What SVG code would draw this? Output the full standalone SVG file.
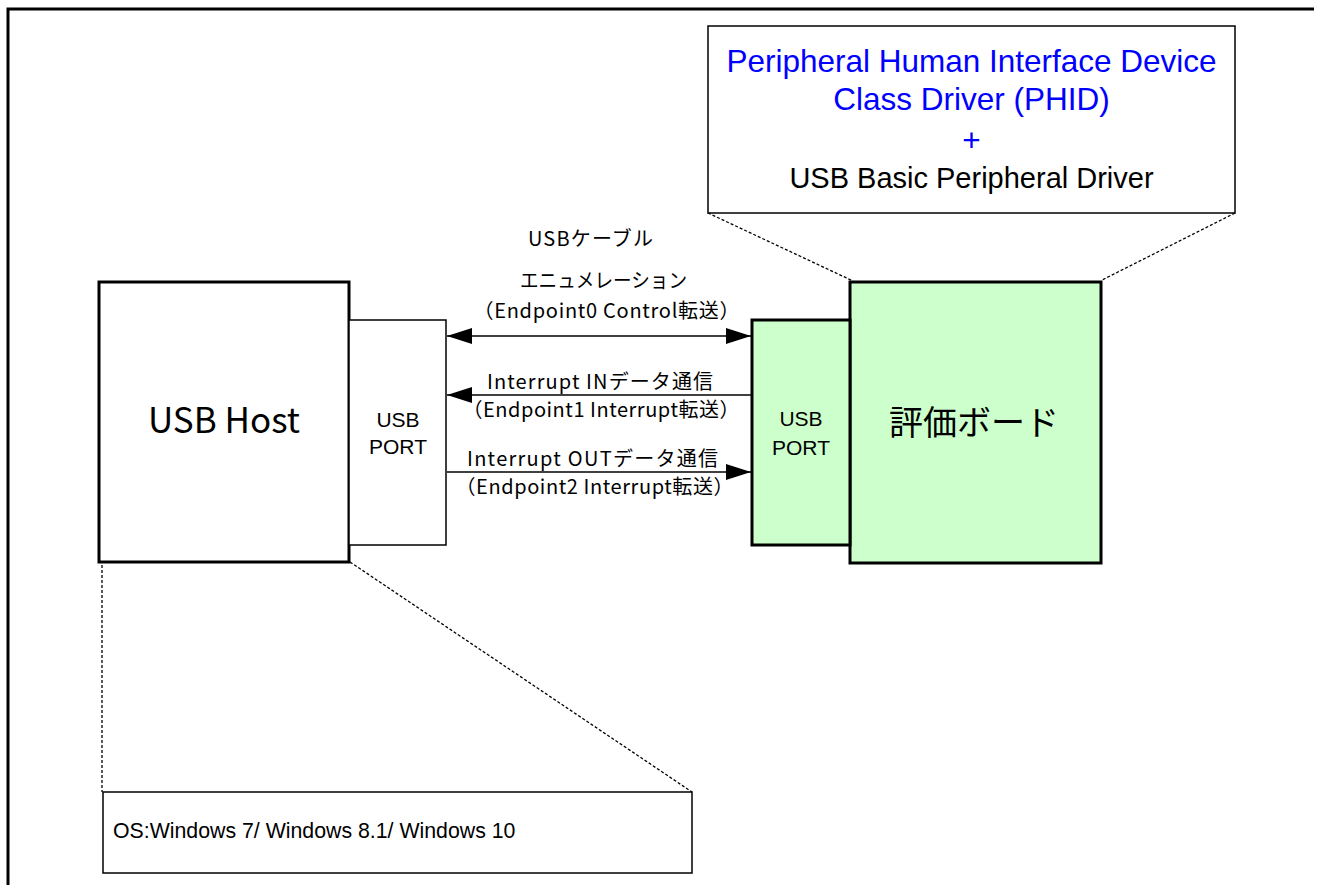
<svg xmlns="http://www.w3.org/2000/svg" width="1320" height="885" viewBox="0 0 1320 885">
  <style>
    .jp { font-family: "Noto Sans CJK JP", "Noto Sans", sans-serif; fill: #000; }
    .lat { font-family: "Liberation Sans", Arial, sans-serif; }
    .thick { fill: #fff; stroke: #000; stroke-width: 3; }
    .thin { fill: #fff; stroke: #000; stroke-width: 1.5; }
    .green { fill: #ccffcc; stroke: #000; stroke-width: 3; }
    .dot { fill: none; stroke: #000; stroke-width: 1.3; stroke-dasharray: 3 2; }
    .conn { fill: none; stroke: #000; stroke-width: 1.5; }
  </style>
  <defs>
    <marker id="ah" viewBox="0 0 25 16" refX="25" refY="8" markerWidth="25" markerHeight="16" markerUnits="userSpaceOnUse" orient="auto-start-reverse">
      <path d="M0,0 L25,8 L0,16 Z" fill="#000"/>
    </marker>
  </defs>
  <rect width="1320" height="885" fill="#fff"/>

  <!-- page frame -->
  <path d="M8,885 L8,9 L1314,9" fill="none" stroke="#000" stroke-width="3"/>

  <!-- callout guides -->
  <g id="guides">
    <line class="dot" x1="708" y1="213" x2="853" y2="281"/>
    <line class="dot" x1="1235" y1="213" x2="1102" y2="280"/>
    <line class="dot" x1="102" y1="565" x2="102" y2="792"/>
    <line class="dot" x1="350" y1="562" x2="692" y2="792"/>
  </g>

  <g id="driver-stack">
    <rect class="thin" x="708" y="26" width="527" height="187"/>
    <g class="lat" text-anchor="middle">
      <text x="971.5" y="72" font-size="31.5" fill="#0000ff">Peripheral Human Interface Device</text>
      <text x="971.5" y="110" font-size="31.5" fill="#0000ff">Class Driver (PHID)</text>
      <text x="971.5" y="151" font-size="31.5" fill="#0000ff">+</text>
      <text x="971.5" y="188" font-size="29" fill="#000">USB Basic Peripheral Driver</text>
    </g>
  </g>

  <g id="usb-host">
    <rect class="thick" x="99" y="282" width="250" height="280"/>
    <text class="jp" x="224" y="433" font-size="35" text-anchor="middle">USB Host</text>
  </g>

  <g id="host-port">
    <rect class="thin" x="349" y="320" width="97" height="225"/>
    <text class="lat" x="398" y="427" font-size="21" text-anchor="middle">USB</text>
    <text class="lat" x="398" y="454" font-size="21" text-anchor="middle">PORT</text>
  </g>

  <g id="board">
    <rect class="green" x="850" y="282" width="251" height="281"/>
    <text class="jp" x="974" y="435" font-size="34" text-anchor="middle">評価ボード</text>
  </g>

  <g id="board-port">
    <rect class="green" x="752" y="320" width="98" height="225"/>
    <text class="lat" x="801" y="426" font-size="21" text-anchor="middle">USB</text>
    <text class="lat" x="801" y="455" font-size="21" text-anchor="middle">PORT</text>
  </g>

  <g id="os-note">
    <rect class="thin" x="103" y="792" width="589" height="81"/>
    <text class="lat" x="113" y="838" font-size="21.3">OS:Windows 7/ Windows 8.1/ Windows 10</text>
  </g>

  <!-- USB cable transfers -->
  <g id="connectors">
    <line class="conn" x1="447" y1="336" x2="751" y2="336" marker-start="url(#ah)" marker-end="url(#ah)"/>
    <line class="conn" x1="751" y1="395" x2="447" y2="395" marker-end="url(#ah)"/>
    <line class="conn" x1="447" y1="472" x2="751" y2="472" marker-end="url(#ah)"/>
  </g>

  <g id="connector-labels" class="jp" font-size="20" text-anchor="middle">
    <text x="590.5" y="246" textLength="125" lengthAdjust="spacing">USBケーブル</text>
    <text x="603.5" y="288" textLength="167" lengthAdjust="spacingAndGlyphs">エニュメレーション</text>
    <text x="606.5" y="318" textLength="266" lengthAdjust="spacing">（Endpoint0 Control転送）</text>
    <text x="600" y="389" textLength="226" lengthAdjust="spacing">Interrupt INデータ通信</text>
    <text x="601" y="417" textLength="277" lengthAdjust="spacing">（Endpoint1 Interrupt転送）</text>
    <text x="592.5" y="466" textLength="251" lengthAdjust="spacing">Interrupt OUTデータ通信</text>
    <text x="594.5" y="494" textLength="278" lengthAdjust="spacing">（Endpoint2 Interrupt転送）</text>
  </g>
</svg>
